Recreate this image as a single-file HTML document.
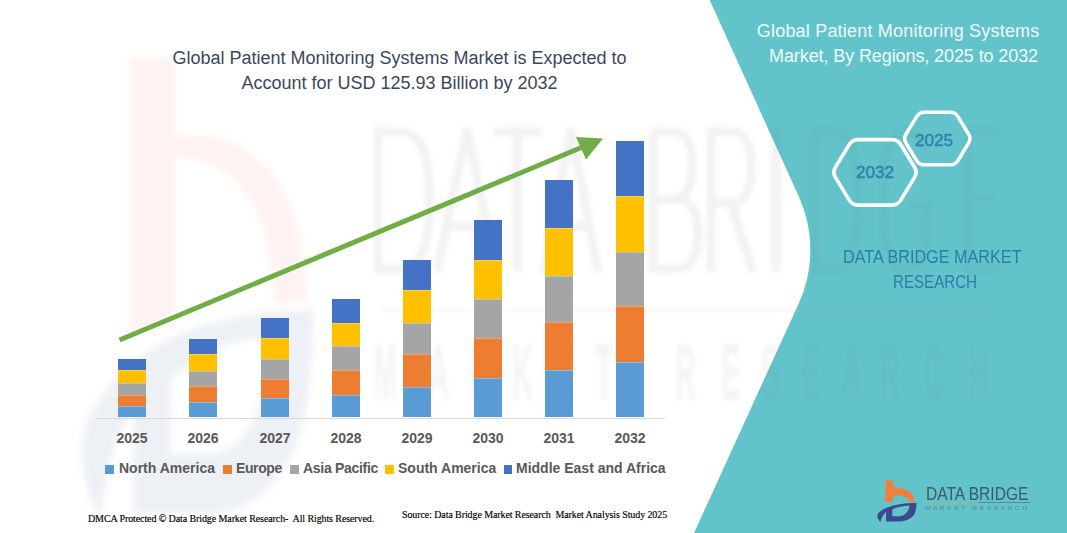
<!DOCTYPE html>
<html><head><meta charset="utf-8">
<style>
html,body{margin:0;padding:0;}
body{width:1067px;height:533px;position:relative;overflow:hidden;background:#fff;font-family:"Liberation Sans",sans-serif;}
.abs{position:absolute;}
.yr{position:absolute;top:430px;font-weight:bold;font-size:14px;color:#595959;width:60px;text-align:center;line-height:16px;}
.leg{position:absolute;top:460px;font-weight:bold;font-size:14px;color:#595959;line-height:16px;white-space:nowrap;}
.sq{position:absolute;width:8.5px;height:8.5px;top:465px;}
</style></head>
<body>
<!-- teal shape -->
<svg class="abs" style="left:0;top:0" width="1067" height="533">
  <path d="M1067 0 L709.7 0 L798.9 196.5 A129 129 0 0 1 798.8 303.5 L690.9 540 L1067 540 Z" fill="#63C4CA"/>
</svg>

<!-- watermark -->
<svg class="abs" style="left:0;top:0" width="1067" height="533">
  <defs><filter id="bl" x="-10%" y="-10%" width="120%" height="120%"><feGaussianBlur stdDeviation="2"/></filter><filter id="bl2" x="-10%" y="-10%" width="120%" height="120%"><feGaussianBlur stdDeviation="3"/></filter></defs>
  <g filter="url(#bl2)"><path d="M130 57 L175 57 L175 136 C215 128 255 145 280 185 C297 212 306 250 308 299 L274 305 C273 265 265 225 250 200 C235 175 210 158 175 158 L175 326 L130 335 Z" fill="#F07040" fill-opacity="0.08"/>
    <g transform="translate(131.5,58) scale(5.9,11) translate(-885.7,-480.2)">
    <path d="M880.4 522.2 C877.5 519 876.5 516 878 513.5 C882 508.5 892 505 900.2 504.2 C906 503.4 911 503.1 916.5 503.1 C916.5 510 915 515 911.4 517.6 C908 520.5 903 521.6 899 521.6 L886.1 521.6 L886.1 512.1 C883.5 514 881.5 517 880.4 522.2 Z M892.3 509.5 C897 507 903 505.8 909.5 505.5 C909 510 906.5 514 903 515.5 C901.5 516 900 516.2 899 516.2 L892.3 516.2 Z" fill="#5070A0" fill-opacity="0.1" fill-rule="evenodd"/>
  </g></g>
  <rect x="380" y="307" width="620" height="5" fill="#B08060" fill-opacity="0.06" filter="url(#bl)"/>
  <g fill="none" stroke="#000" stroke-opacity="0.05" stroke-width="9" filter="url(#bl)">
    <path d="M378 131.5 H398 C420 131.5 429.5 150 429.5 200 C429.5 250 420 269 398 269 H378 Z"/>
    <path d="M437 272 L467 129 L497 272 M447 226 H487"/>
    <path d="M494 131.5 H541 M517.5 131.5 V272"/>
    <path d="M544 272 L571 129 L598 272 M554 226 H588"/>
    <path d="M653 131.5 V269 H676 C691 269 698 255 698 234 C698 213 691 199 676 199 H653 M653 199 H673 C686 199 692 186 692 165 C692 144 686 131.5 673 131.5 H653"/>
    <path d="M711 272 V131.5 H731 C746 131.5 751 145 751 167 C751 190 746 203 731 203 H711 M731 203 L753 272"/>
    <path d="M776 128.5 V272"/>
    <path d="M815 131.5 H834 C852 131.5 858 155 858 200 C858 245 852 269 834 269 H815 Z"/>
    <path d="M927 152 C921 137 913 131.5 904 131.5 C889 131.5 883 160 883 200 C883 245 889 269 904 269 C918 269 927 255 927 230 V207 H907"/>
    <path d="M999 131.5 H968 V269 H999 M968 199 H995"/>
  </g>
  <g fill="#000" fill-opacity="0.04" stroke="#000" stroke-opacity="0.03" stroke-width="1.5" font-family="Liberation Sans" font-weight="bold" font-size="77" filter="url(#bl)">
    <text transform="translate(373,399) scale(0.38,1)">M</text>
    <text transform="translate(428,399) scale(0.38,1)">A</text>
    <text transform="translate(470,399) scale(0.38,1)">R</text>
    <text transform="translate(512,399) scale(0.38,1)">K</text>
    <text transform="translate(555,399) scale(0.38,1)">E</text>
    <text transform="translate(595,399) scale(0.38,1)">T</text>
    <text transform="translate(675,399) scale(0.38,1)">R</text>
    <text transform="translate(721,399) scale(0.38,1)">E</text>
    <text transform="translate(761,399) scale(0.38,1)">S</text>
    <text transform="translate(801,399) scale(0.38,1)">E</text>
    <text transform="translate(841,399) scale(0.38,1)">A</text>
    <text transform="translate(879,399) scale(0.38,1)">R</text>
    <text transform="translate(924,399) scale(0.38,1)">C</text>
    <text transform="translate(969,399) scale(0.38,1)">H</text>
  </g>
</svg>

<svg class="abs" style="left:0;top:0" width="1067" height="533"><path d="M1067 0 L709.7 0 L798.9 196.5 A129 129 0 0 1 798.8 303.5 L690.9 540 L1067 540 Z" fill="#63C4CA" fill-opacity="0.4"/></svg>
<!-- title -->
<div class="abs" style="left:100px;top:46px;width:599px;text-align:center;color:#38475E;font-size:18px;line-height:24.5px;">Global Patient Monitoring Systems Market is Expected to<br>Account for USD 125.93 Billion by 2032</div>

<!-- axis -->
<div class="abs" style="left:96px;top:418px;width:569px;height:1px;background:#D9D9D9"></div>

<div class="abs" style="left:118px;top:359px;width:28px;height:11px;background:#4472C4"></div>
<div class="abs" style="left:118px;top:370px;width:28px;height:13px;background:#FFC000"></div>
<div class="abs" style="left:118px;top:383px;width:28px;height:12px;background:#A5A5A5"></div>
<div class="abs" style="left:118px;top:395px;width:28px;height:11px;background:#ED7D31"></div>
<div class="abs" style="left:118px;top:406px;width:28px;height:11px;background:#5B9BD5"></div>
<div class="abs" style="left:118px;top:370px;width:28px;height:1px;background:rgba(255,255,255,0.3)"></div>
<div class="abs" style="left:118px;top:383px;width:28px;height:1px;background:rgba(255,255,255,0.3)"></div>
<div class="abs" style="left:118px;top:395px;width:28px;height:1px;background:rgba(255,255,255,0.3)"></div>
<div class="abs" style="left:118px;top:406px;width:28px;height:1px;background:rgba(255,255,255,0.3)"></div>
<div class="abs" style="left:189px;top:339px;width:28px;height:15px;background:#4472C4"></div>
<div class="abs" style="left:189px;top:354px;width:28px;height:17px;background:#FFC000"></div>
<div class="abs" style="left:189px;top:371px;width:28px;height:15px;background:#A5A5A5"></div>
<div class="abs" style="left:189px;top:386px;width:28px;height:16px;background:#ED7D31"></div>
<div class="abs" style="left:189px;top:402px;width:28px;height:15px;background:#5B9BD5"></div>
<div class="abs" style="left:189px;top:354px;width:28px;height:1px;background:rgba(255,255,255,0.3)"></div>
<div class="abs" style="left:189px;top:371px;width:28px;height:1px;background:rgba(255,255,255,0.3)"></div>
<div class="abs" style="left:189px;top:386px;width:28px;height:1px;background:rgba(255,255,255,0.3)"></div>
<div class="abs" style="left:189px;top:402px;width:28px;height:1px;background:rgba(255,255,255,0.3)"></div>
<div class="abs" style="left:261px;top:318px;width:28px;height:20px;background:#4472C4"></div>
<div class="abs" style="left:261px;top:338px;width:28px;height:21px;background:#FFC000"></div>
<div class="abs" style="left:261px;top:359px;width:28px;height:20px;background:#A5A5A5"></div>
<div class="abs" style="left:261px;top:379px;width:28px;height:19px;background:#ED7D31"></div>
<div class="abs" style="left:261px;top:398px;width:28px;height:19px;background:#5B9BD5"></div>
<div class="abs" style="left:261px;top:338px;width:28px;height:1px;background:rgba(255,255,255,0.3)"></div>
<div class="abs" style="left:261px;top:359px;width:28px;height:1px;background:rgba(255,255,255,0.3)"></div>
<div class="abs" style="left:261px;top:379px;width:28px;height:1px;background:rgba(255,255,255,0.3)"></div>
<div class="abs" style="left:261px;top:398px;width:28px;height:1px;background:rgba(255,255,255,0.3)"></div>
<div class="abs" style="left:332px;top:299px;width:28px;height:24px;background:#4472C4"></div>
<div class="abs" style="left:332px;top:323px;width:28px;height:23px;background:#FFC000"></div>
<div class="abs" style="left:332px;top:346px;width:28px;height:24px;background:#A5A5A5"></div>
<div class="abs" style="left:332px;top:370px;width:28px;height:25px;background:#ED7D31"></div>
<div class="abs" style="left:332px;top:395px;width:28px;height:22px;background:#5B9BD5"></div>
<div class="abs" style="left:332px;top:323px;width:28px;height:1px;background:rgba(255,255,255,0.3)"></div>
<div class="abs" style="left:332px;top:346px;width:28px;height:1px;background:rgba(255,255,255,0.3)"></div>
<div class="abs" style="left:332px;top:370px;width:28px;height:1px;background:rgba(255,255,255,0.3)"></div>
<div class="abs" style="left:332px;top:395px;width:28px;height:1px;background:rgba(255,255,255,0.3)"></div>
<div class="abs" style="left:403px;top:260px;width:28px;height:30px;background:#4472C4"></div>
<div class="abs" style="left:403px;top:290px;width:28px;height:33px;background:#FFC000"></div>
<div class="abs" style="left:403px;top:323px;width:28px;height:31px;background:#A5A5A5"></div>
<div class="abs" style="left:403px;top:354px;width:28px;height:33px;background:#ED7D31"></div>
<div class="abs" style="left:403px;top:387px;width:28px;height:30px;background:#5B9BD5"></div>
<div class="abs" style="left:403px;top:290px;width:28px;height:1px;background:rgba(255,255,255,0.3)"></div>
<div class="abs" style="left:403px;top:323px;width:28px;height:1px;background:rgba(255,255,255,0.3)"></div>
<div class="abs" style="left:403px;top:354px;width:28px;height:1px;background:rgba(255,255,255,0.3)"></div>
<div class="abs" style="left:403px;top:387px;width:28px;height:1px;background:rgba(255,255,255,0.3)"></div>
<div class="abs" style="left:474px;top:220px;width:28px;height:40px;background:#4472C4"></div>
<div class="abs" style="left:474px;top:260px;width:28px;height:39px;background:#FFC000"></div>
<div class="abs" style="left:474px;top:299px;width:28px;height:39px;background:#A5A5A5"></div>
<div class="abs" style="left:474px;top:338px;width:28px;height:40px;background:#ED7D31"></div>
<div class="abs" style="left:474px;top:378px;width:28px;height:39px;background:#5B9BD5"></div>
<div class="abs" style="left:474px;top:260px;width:28px;height:1px;background:rgba(255,255,255,0.3)"></div>
<div class="abs" style="left:474px;top:299px;width:28px;height:1px;background:rgba(255,255,255,0.3)"></div>
<div class="abs" style="left:474px;top:338px;width:28px;height:1px;background:rgba(255,255,255,0.3)"></div>
<div class="abs" style="left:474px;top:378px;width:28px;height:1px;background:rgba(255,255,255,0.3)"></div>
<div class="abs" style="left:545px;top:180px;width:28px;height:48px;background:#4472C4"></div>
<div class="abs" style="left:545px;top:228px;width:28px;height:48px;background:#FFC000"></div>
<div class="abs" style="left:545px;top:276px;width:28px;height:46px;background:#A5A5A5"></div>
<div class="abs" style="left:545px;top:322px;width:28px;height:48px;background:#ED7D31"></div>
<div class="abs" style="left:545px;top:370px;width:28px;height:47px;background:#5B9BD5"></div>
<div class="abs" style="left:545px;top:228px;width:28px;height:1px;background:rgba(255,255,255,0.3)"></div>
<div class="abs" style="left:545px;top:276px;width:28px;height:1px;background:rgba(255,255,255,0.3)"></div>
<div class="abs" style="left:545px;top:322px;width:28px;height:1px;background:rgba(255,255,255,0.3)"></div>
<div class="abs" style="left:545px;top:370px;width:28px;height:1px;background:rgba(255,255,255,0.3)"></div>
<div class="abs" style="left:616px;top:141px;width:28px;height:55px;background:#4472C4"></div>
<div class="abs" style="left:616px;top:196px;width:28px;height:56px;background:#FFC000"></div>
<div class="abs" style="left:616px;top:252px;width:28px;height:54px;background:#A5A5A5"></div>
<div class="abs" style="left:616px;top:306px;width:28px;height:56px;background:#ED7D31"></div>
<div class="abs" style="left:616px;top:362px;width:28px;height:55px;background:#5B9BD5"></div>
<div class="abs" style="left:616px;top:196px;width:28px;height:1px;background:rgba(255,255,255,0.3)"></div>
<div class="abs" style="left:616px;top:252px;width:28px;height:1px;background:rgba(255,255,255,0.3)"></div>
<div class="abs" style="left:616px;top:306px;width:28px;height:1px;background:rgba(255,255,255,0.3)"></div>
<div class="abs" style="left:616px;top:362px;width:28px;height:1px;background:rgba(255,255,255,0.3)"></div>

<!-- arrow -->
<svg class="abs" style="left:0;top:0" width="1067" height="533">
  <line x1="119.5" y1="340" x2="585" y2="146" stroke="#70AD47" stroke-width="5"/>
  <polygon points="603,138.4 576,137 586,159.4" fill="#70AD47"/>
</svg>

<!-- years -->
<div class="yr" style="left:102px">2025</div>
<div class="yr" style="left:173px">2026</div>
<div class="yr" style="left:245px">2027</div>
<div class="yr" style="left:316px">2028</div>
<div class="yr" style="left:387px">2029</div>
<div class="yr" style="left:458px">2030</div>
<div class="yr" style="left:529px">2031</div>
<div class="yr" style="left:600px">2032</div>

<!-- legend -->
<div class="sq" style="left:105px;background:#5B9BD5"></div><div class="leg" style="left:119px">North America</div>
<div class="sq" style="left:223px;background:#ED7D31"></div><div class="leg" style="left:236px;letter-spacing:-0.4px">Europe</div>
<div class="sq" style="left:290px;background:#A5A5A5"></div><div class="leg" style="left:303px;letter-spacing:-0.3px">Asia Pacific</div>
<div class="sq" style="left:385px;background:#FFC000"></div><div class="leg" style="left:398px">South America</div>
<div class="sq" style="left:503.5px;background:#4472C4"></div><div class="leg" style="left:516px">Middle East and Africa</div>

<!-- footer -->
<div class="abs" style="left:88px;top:512.5px;font-family:'Liberation Serif',serif;font-size:10px;letter-spacing:-0.1px;color:#000;-webkit-text-stroke:0.15px #000;white-space:nowrap">DMCA Protected © Data Bridge Market Research-&nbsp; All Rights Reserved.</div>
<div class="abs" style="left:402px;top:508.5px;font-family:'Liberation Serif',serif;font-size:10px;letter-spacing:-0.1px;color:#000;-webkit-text-stroke:0.15px #000;white-space:nowrap">Source: Data Bridge Market Research&nbsp; Market Analysis Study 2025</div>

<!-- right panel -->
<div class="abs" style="left:701.5px;top:19px;width:338px;text-align:right;color:#EEFCFC;font-size:18px;line-height:24.5px;letter-spacing:0.2px;">Global Patient Monitoring Systems</div>
<div class="abs" style="left:701.5px;top:43.5px;width:336.5px;text-align:right;color:#EEFCFC;font-size:18px;line-height:24.5px;letter-spacing:-0.1px;">Market, By Regions, 2025 to 2032</div>

<svg class="abs" style="left:0;top:0" width="1067" height="533">
  <path d="M835.4 177.4 Q832.2 172.3 835.4 167.2 L849.1 144.7 Q852.2 139.6 858.2 139.6 L891.8 139.6 Q897.8 139.6 900.9 144.7 L914.6 167.2 Q917.8 172.3 914.6 177.4 L900.9 199.9 Q897.8 205.1 891.8 205.1 L858.2 205.1 Q852.2 205.1 849.1 199.9 Z" fill="none" stroke="#fff" stroke-width="3.6"/>
  <path d="M905.9 142.9 Q903.3 138.6 905.9 134.3 L916.7 116.6 Q919.3 112.3 924.3 112.3 L950.3 112.3 Q955.3 112.3 957.9 116.6 L968.7 134.3 Q971.3 138.6 968.7 142.9 L957.9 160.6 Q955.3 164.8 950.3 164.8 L924.3 164.8 Q919.3 164.8 916.7 160.6 Z" fill="none" stroke="#fff" stroke-width="3.6"/>
</svg>
<div class="abs" style="left:845px;top:162.5px;width:60px;text-align:center;color:#2B7EAB;font-size:17px;line-height:20px;-webkit-text-stroke:0.3px #2B7EAB;">2032</div>
<div class="abs" style="left:901px;top:130.5px;width:66px;text-align:center;color:#2B7EAB;font-size:17px;line-height:20px;-webkit-text-stroke:0.3px #2B7EAB;">2025</div>

<div class="abs" style="left:843px;top:245.7px;width:198.4px;white-space:nowrap;color:#2B7EAB;font-size:18px;line-height:22px;transform:scaleX(0.9);transform-origin:0 0;">DATA BRIDGE MARKET</div>
<div class="abs" style="left:892.6px;top:270.5px;width:100px;white-space:nowrap;color:#2B7EAB;font-size:18px;line-height:22px;transform:scaleX(0.84);transform-origin:0 0;">RESEARCH</div>

<!-- logo -->
<svg class="abs" style="left:0;top:0" width="1067" height="533">
  <path d="M885.7 480.2 L893 480.2 L893 487.2 C899 487.2 906 489 910 492 C913 494.5 914.4 498 914.4 501.9 L909.9 501.9 C908.5 498.5 904 495.5 898.6 495.3 C896 495.3 894 495.8 893 496.2 L893 501.9 L885.1 501.9 Z" fill="#F07F3C"/>
  <path d="M880.4 522.2 C877.5 519 876.5 516 878 513.5 C882 508.5 892 505 900.2 504.2 C906 503.4 911 503.1 916.5 503.1 C916.5 510 915 515 911.4 517.6 C908 520.5 903 521.6 899 521.6 L886.1 521.6 L886.1 512.1 C883.5 514 881.5 517 880.4 522.2 Z M892.3 509.5 C897 507 903 505.8 909.5 505.5 C909 510 906.5 514 903 515.5 C901.5 516 900 516.2 899 516.2 L892.3 516.2 Z" fill="#3A4A8E" fill-rule="evenodd"/>
</svg>
<div class="abs" style="left:925.5px;top:484px;white-space:nowrap;color:#3D5B6C;font-size:18px;line-height:20px;transform:scaleX(0.865);transform-origin:0 0;">DATA BRIDGE</div>
<div class="abs" style="left:926px;top:502px;width:52px;height:1px;background:#C9A47F;opacity:0.8"></div>
<div class="abs" style="left:978px;top:502px;width:52px;height:1px;background:#4E7E9A;opacity:0.8"></div>
<div class="abs" style="left:925px;top:504px;white-space:nowrap;color:#4F8E98;font-size:6px;line-height:8px;letter-spacing:0.2px;transform:scaleX(1.17);transform-origin:0 0;">M A R K E T &nbsp; R E S E A R C H</div>
</body></html>
